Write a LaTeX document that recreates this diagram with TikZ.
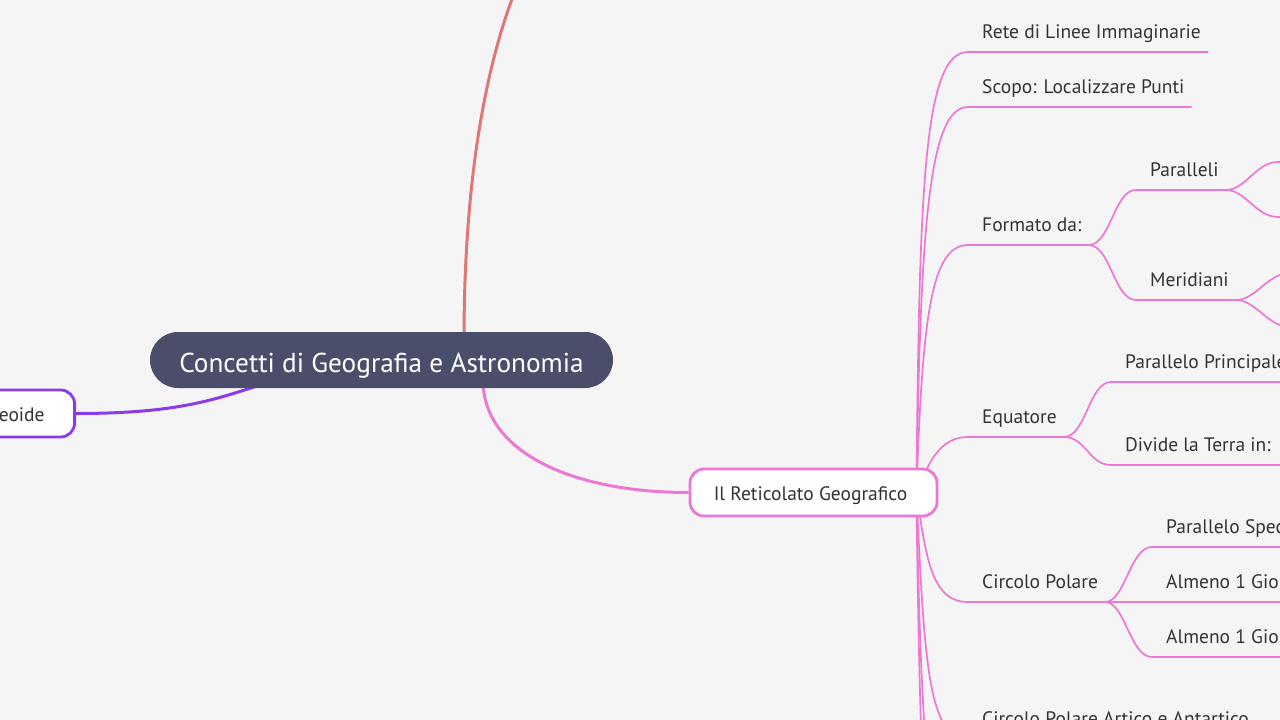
\documentclass[tikz,border=0pt]{standalone}
\usepackage{fontspec}
\setmainfont{PT Sans}
\usetikzlibrary{calc}
\definecolor{bg}{HTML}{F5F5F5}
\definecolor{pinkc}{HTML}{EC78D4}
\definecolor{redc}{HTML}{E07777}
\definecolor{purc}{HTML}{8C3BEA}
\definecolor{central}{HTML}{4B4E6A}
\definecolor{txt}{HTML}{333333}
\pgfdeclarelayer{bgfill}
\pgfdeclarelayer{edges}
\pgfsetlayers{bgfill,edges,main}
\begin{document}
\begin{tikzpicture}[x=1pt,y=-1pt,
  lbl/.style={anchor=south west, inner xsep=14pt, inner ysep=9pt, text height=14pt, text depth=4pt, font=\fontsize{19.5}{23}\selectfont, text=txt},
  br/.style={draw=pinkc, line width=1.7pt},
  mainedge/.style={line width=3pt},
  boxnode/.style={fill=white, line width=2.8pt, rounded corners=14pt, minimum height=47pt, inner ysep=0pt, text height=15pt, text depth=0pt, font=\fontsize{19.5}{23}\selectfont, text=txt}
  ]
\useasboundingbox (0,0) rectangle (1280,720);
\begin{pgfonlayer}{bgfill}
\fill[bg] (0,0) rectangle (1280,720);
\end{pgfonlayer}

% main nodes
\node[fill=central, rounded corners=28pt, minimum width=463pt, minimum height=56pt, text=white, font=\fontsize{27.3}{32}\selectfont, inner sep=0pt, text height=24pt, text depth=0pt] (root) at (381.5,360) {Concetti di Geografia e Astronomia};
\node[boxnode, draw=pinkc, minimum width=247pt, inner xsep=0pt] (ret) at (813.5,492.5) {\hspace*{-6pt}Il Reticolato Geografico};
\node[boxnode, draw=purc, anchor=east, inner xsep=30pt] (geo) at (76,413.5) {Geoide};

% child labels
\node[lbl] (rete) at (968,52) {Rete di Linee Immaginarie};
\node[lbl] (scopo) at (968,107) {Scopo: Localizzare Punti};
\node[lbl] (form) at (968,245) {Formato da:};
\node[lbl] (par) at (1136,190) {Paralleli};
\node[lbl] (mer) at (1136,300) {Meridiani};
\node[lbl] (equ) at (968,437) {Equatore};
\node[lbl] (pprin) at (1111,382) {Parallelo Principale};
\node[lbl] (divide) at (1111,465) {Divide la Terra in:};
\node[lbl] (cpol) at (968,602) {Circolo Polare};
\node[lbl] (pspec) at (1152,547) {Parallelo Speciale};
\node[lbl] (alm1) at (1152,602) {Almeno 1 Giorno};
\node[lbl] (alm2) at (1152,657) {Almeno 1 Giorno};
\node[lbl] (artico) at (968,739) {Circolo Polare Artico e Antartico};

% underline ends
\foreach \n in {rete,scopo,form,par,mer,equ,pprin,divide,cpol,pspec,alm1,alm2,artico}
  \coordinate (\n-end) at ([xshift=-7pt]\n.south east);

% off-canvas ends
\coordinate (redend) at (540,-60);
\coordinate (hub) at ($(ret.east)+(-22,0)$);
\coordinate (c7) at (968,880);
\coordinate (c8) at (968,1000);
\coordinate (pa1) at (1278,162);
\coordinate (pa2) at (1278,217);
\coordinate (me1) at (1290,273);
\coordinate (me2) at (1290,327);

\begin{pgfonlayer}{edges}
\draw[mainedge, redc] ($(root.north)+(82.5,8)$) .. controls +(0,-245) and +(-25,40) .. (redend);
\draw[mainedge, purc] (geo.east) .. controls +(110,0) and +(-50,15) .. ($(root.south)+(-112,-6)$);
\draw[mainedge, pinkc] ($(root.south)+(101.5,-8)$) .. controls +(0,70) and +(-120,0) .. (ret.west);

\draw[br] (hub) .. controls +(3,-300) and +(-45,0) .. (rete.south west) -- (rete-end);
\draw[br] (hub) .. controls +(4,-260) and +(-40,0) .. (scopo.south west) -- (scopo-end);
\draw[br] (hub) .. controls +(6,-170) and +(-38,0) .. (form.south west) -- (form-end);
\draw[br] (hub) .. controls +(12,-30) and +(-28,0) .. (equ.south west) -- (equ-end);
\draw[br] (hub) .. controls +(10,70) and +(-35,0) .. (cpol.south west) -- (cpol-end);
\draw[br] (hub) .. controls +(8,170) and +(-40,0) .. (artico.south west) -- (artico-end);
\draw[br] (hub) .. controls +(5,250) and +(-40,0) .. (c7);
\draw[br] (hub) .. controls +(4,330) and +(-40,0) .. (c8);

\draw[br] (form-end) .. controls +(22,0) and +(-22,0) .. (par.south west) -- (par-end);
\draw[br] (form-end) .. controls +(22,0) and +(-22,0) .. (mer.south west) -- (mer-end);
\draw[br] (par-end) .. controls +(20,0) and +(-22,0) .. (pa1) -- ++(60,0);
\draw[br] (par-end) .. controls +(20,0) and +(-22,0) .. (pa2) -- ++(60,0);
\draw[br] (mer-end) .. controls +(20,0) and +(-22,0) .. (me1) -- ++(60,0);
\draw[br] (mer-end) .. controls +(20,0) and +(-22,0) .. (me2) -- ++(60,0);

\draw[br] (equ-end) .. controls +(22,0) and +(-22,0) .. (pprin.south west) -- (pprin.south east);
\draw[br] (equ-end) .. controls +(22,0) and +(-22,0) .. (divide.south west) -- (divide.south east);

\draw[br] (cpol-end) .. controls +(20,0) and +(-22,0) .. (pspec.south west) -- (pspec.south east);
\draw[br] (cpol-end) -- (alm1.south west) -- (alm1.south east);
\draw[br] (cpol-end) .. controls +(20,0) and +(-22,0) .. (alm2.south west) -- (alm2.south east);
\end{pgfonlayer}
\end{tikzpicture}
\end{document}
